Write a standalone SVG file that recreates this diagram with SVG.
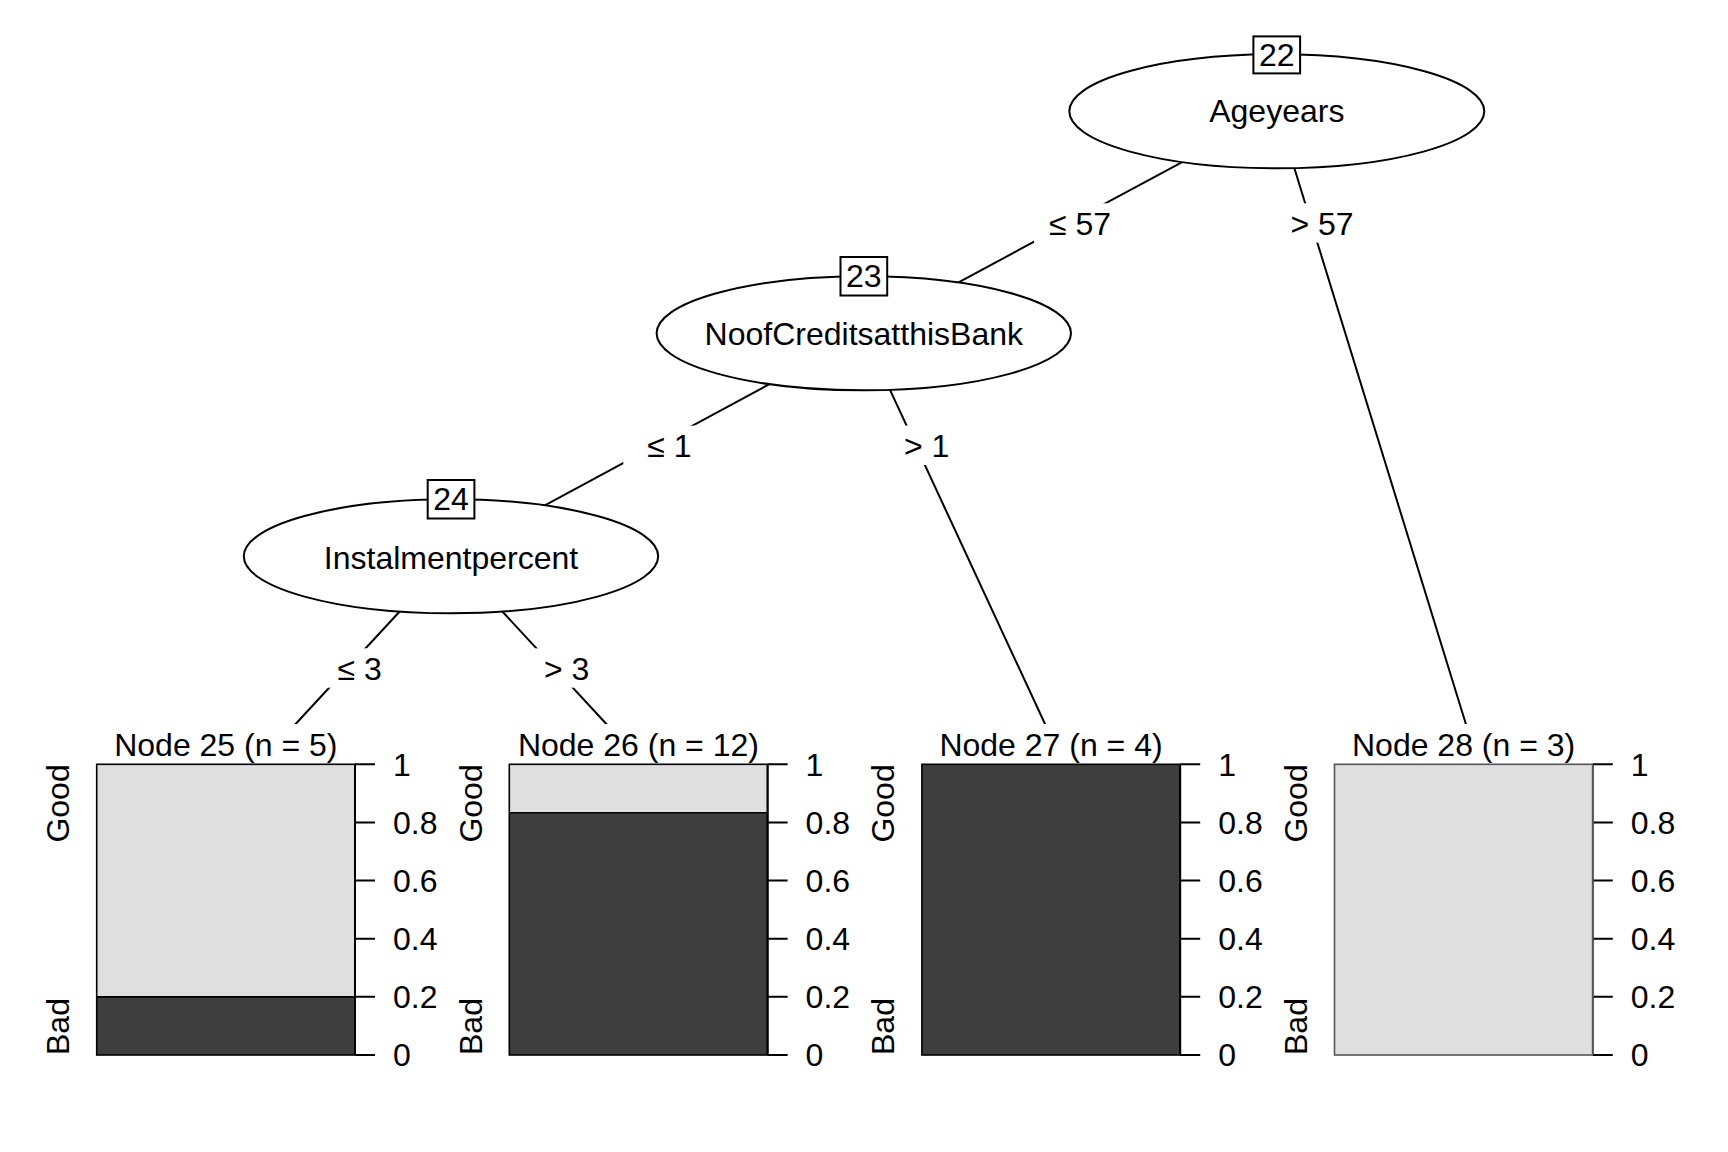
<svg xmlns="http://www.w3.org/2000/svg" width="1728" height="1152" viewBox="0 0 1728 1152">
<style>
text{font-family:"Liberation Sans",Arial,sans-serif;font-size:32px;fill:#000}
.mid{text-anchor:middle}
.edge{stroke:#000;stroke-width:2;fill:none}
.lblbg{fill:#fff;stroke:none}
.ell{fill:#fff;stroke:#000;stroke-width:2}
.idbox{fill:#fff;stroke:#000;stroke-width:2}
.light{fill:#DFDFDF}
.dark{fill:#3E3E3E}
.frame{fill:none;stroke:#000;stroke-width:1.6}
.axis{stroke:#000;stroke-width:2;fill:none}
</style>
<rect width="1728" height="1152" fill="#fff"/>
<g id="connectors">
  <line class="edge" x1="1276.8" y1="111.3" x2="863.8" y2="333.3"/>
  <line class="edge" x1="1276.8" y1="111.3" x2="1466.8" y2="727"/>
  <line class="edge" x1="863.8" y1="333.3" x2="451" y2="556"/>
  <line class="edge" x1="863.8" y1="333.3" x2="1045.7" y2="725.5"/>
  <line class="edge" x1="451" y1="556" x2="293.3" y2="726.5"/>
  <line class="edge" x1="451" y1="556" x2="608.7" y2="726.5"/>
  <rect class="lblbg" x="1034" y="203.3" width="92" height="39.4"/>
  <text class="mid" x="1080" y="234.7">≤ 57</text>
  <rect class="lblbg" x="1282" y="203.3" width="80" height="39.4"/>
  <text class="mid" x="1322" y="234.7">&gt; 57</text>
  <rect class="lblbg" x="623.3" y="425.6" width="92" height="39.4"/>
  <text class="mid" x="669.3" y="456.9">≤ 1</text>
  <rect class="lblbg" x="890" y="425.6" width="74" height="39.4"/>
  <text class="mid" x="926.7" y="456.9">&gt; 1</text>
  <rect class="lblbg" x="313.7" y="648.3" width="92" height="39.4"/>
  <text class="mid" x="359.7" y="680">≤ 3</text>
  <rect class="lblbg" x="529" y="648.3" width="76" height="39.4"/>
  <text class="mid" x="566.7" y="680">&gt; 3</text>
</g>
<g id="node22">
  <ellipse class="ell" cx="1276.8" cy="111.3" rx="207.5" ry="57"/>
  <text class="mid" x="1276.8" y="122">Ageyears</text>
  <rect class="idbox" x="1253.4" y="36.4" width="46.7" height="37"/>
  <text class="mid" x="1276.8" y="66">22</text>
</g>
<g id="node23">
  <ellipse class="ell" cx="863.8" cy="333.3" rx="207.2" ry="57"/>
  <text class="mid" x="863.8" y="345">NoofCreditsatthisBank</text>
  <rect class="idbox" x="840.5" y="257" width="46.7" height="38.5"/>
  <text class="mid" x="863.8" y="287.3">23</text>
</g>
<g id="node24">
  <ellipse class="ell" cx="451" cy="556.3" rx="207.2" ry="57"/>
  <text class="mid" x="451" y="569">Instalmentpercent</text>
  <rect class="idbox" x="427.7" y="480" width="46.7" height="38.5"/>
  <text class="mid" x="451" y="510">24</text>
</g>
<g id="node25">
  <rect fill="#fff" x="96" y="724" width="262" height="36"/>
  <text class="mid" x="225.8" y="756">Node 25 (n = 5)</text>
  <rect class="light" x="96.7" y="764.3" width="258.3" height="232.56"/>
  <rect class="dark" x="96.7" y="996.86" width="258.3" height="58.14"/>
  <line class="frame" x1="96.7" y1="996.86" x2="355" y2="996.86"/>
  <rect class="frame" x="96.7" y="764.3" width="258.3" height="290.7"/>
  <path class="axis" d="M355 764.3V1055M355 764.3h20M355 822.44h20M355 880.58h20M355 938.72h20M355 996.86h20M355 1055h20"/>
  <text x="393" y="775.7">1</text><text x="393" y="833.8">0.8</text><text x="393" y="892">0.6</text><text x="393" y="950.1">0.4</text><text x="393" y="1008.2">0.2</text><text x="393" y="1066.4">0</text>
  <text transform="rotate(-90 69.1 764.3)" x="69.1" y="764.3" text-anchor="end">Good</text>
  <text transform="rotate(-90 69.1 1055)" x="69.1" y="1055">Bad</text>
</g>
<g id="node26">
  <rect fill="#fff" x="508" y="724" width="262" height="36"/>
  <text class="mid" x="638.4" y="756">Node 26 (n = 12)</text>
  <rect class="light" x="509.3" y="764.3" width="258.3" height="48.45"/>
  <rect class="dark" x="509.3" y="812.75" width="258.3" height="242.25"/>
  <line class="frame" x1="509.3" y1="812.75" x2="767.6" y2="812.75"/>
  <rect class="frame" x="509.3" y="764.3" width="258.3" height="290.7"/>
  <path class="axis" d="M767.6 764.3V1055M767.6 764.3h20M767.6 822.44h20M767.6 880.58h20M767.6 938.72h20M767.6 996.86h20M767.6 1055h20"/>
  <text x="805.6" y="775.7">1</text><text x="805.6" y="833.8">0.8</text><text x="805.6" y="892">0.6</text><text x="805.6" y="950.1">0.4</text><text x="805.6" y="1008.2">0.2</text><text x="805.6" y="1066.4">0</text>
  <text transform="rotate(-90 481.7 764.3)" x="481.7" y="764.3" text-anchor="end">Good</text>
  <text transform="rotate(-90 481.7 1055)" x="481.7" y="1055">Bad</text>
</g>
<g id="node27">
  <rect fill="#fff" x="920" y="724" width="262" height="36"/>
  <text class="mid" x="1051" y="756">Node 27 (n = 4)</text>
  <rect class="dark" x="921.9" y="764.3" width="258.3" height="290.7"/>
  <rect class="frame" x="921.9" y="764.3" width="258.3" height="290.7"/>
  <path class="axis" d="M1180.2 764.3V1055M1180.2 764.3h20M1180.2 822.44h20M1180.2 880.58h20M1180.2 938.72h20M1180.2 996.86h20M1180.2 1055h20"/>
  <text x="1218.2" y="775.7">1</text><text x="1218.2" y="833.8">0.8</text><text x="1218.2" y="892">0.6</text><text x="1218.2" y="950.1">0.4</text><text x="1218.2" y="1008.2">0.2</text><text x="1218.2" y="1066.4">0</text>
  <text transform="rotate(-90 894.3 764.3)" x="894.3" y="764.3" text-anchor="end">Good</text>
  <text transform="rotate(-90 894.3 1055)" x="894.3" y="1055">Bad</text>
</g>
<g id="node28">
  <rect fill="#fff" x="1333" y="724" width="262" height="36"/>
  <text class="mid" x="1463.6" y="756">Node 28 (n = 3)</text>
  <rect class="light" x="1334.5" y="764.3" width="258.3" height="290.7"/>
  <rect fill="none" stroke="#555" stroke-width="1.6" x="1334.5" y="764.3" width="258.3" height="290.7"/>
  <path class="axis" d="M1592.8 764.3h20M1592.8 822.44h20M1592.8 880.58h20M1592.8 938.72h20M1592.8 996.86h20M1592.8 1055h20"/>
  <line stroke="#555" stroke-width="2" x1="1592.8" y1="764.3" x2="1592.8" y2="1055"/>
  <text x="1630.8" y="775.7">1</text><text x="1630.8" y="833.8">0.8</text><text x="1630.8" y="892">0.6</text><text x="1630.8" y="950.1">0.4</text><text x="1630.8" y="1008.2">0.2</text><text x="1630.8" y="1066.4">0</text>
  <text transform="rotate(-90 1306.9 764.3)" x="1306.9" y="764.3" text-anchor="end">Good</text>
  <text transform="rotate(-90 1306.9 1055)" x="1306.9" y="1055">Bad</text>
</g>
</svg>
